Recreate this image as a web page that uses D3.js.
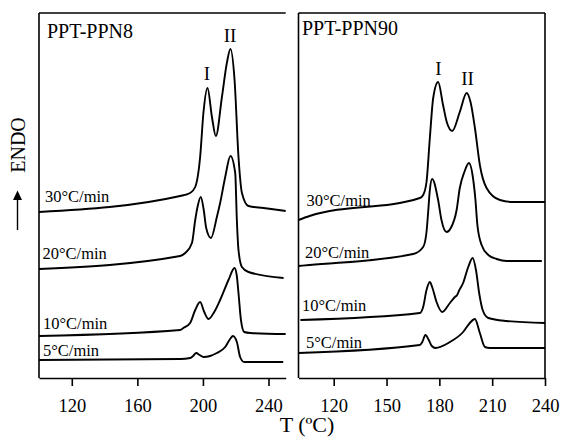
<!doctype html>
<html lang="en">
<head>
<meta charset="UTF-8">
<title>DSC PPT-PPN</title>
<style type="text/css">
body {
  margin: 0;
  padding: 0;
  background: #fff;
}
</style>
<script src="https://cdn.jsdelivr.net/npm/d3@7"></script>
</head>
<body>
<div id="chart"></div>
<script type="text/javascript">

// heating rates, top to bottom
var rates = ['30°C/min', '20°C/min', '10°C/min', '5°C/min'];

// x ticks of each panel
var ticks8 = [120, 160, 200, 240];
var ticks90 = [120, 150, 180, 210, 240];

// PPT-PPN8: temperature (°C) and heat flow (a.u., endo up)
var ppn8T30 = [100, 186.1, 192.2, 195.3, 198.3, 200.3, 202.8, 205.5, 207.9, 211.6, 214.6, 216.8, 219.3, 221.7, 223.8, 227.8, 237.0, 250.5];
var ppn8Q30 = [16.6, 18.2, 18.5, 19.1, 22.1, 26.5, 29.0, 26.1, 24.2, 28.1, 31.5, 32.9, 29.8, 22.1, 18.5, 17.2, 17.0, 16.7];
var ppn8T20 = [100, 186.1, 189.2, 193.3, 195.3, 196.7, 198.7, 200.5, 202.0, 204.9, 208.5, 210.5, 213.6, 216.8, 219.7, 220.7, 221.7, 223.8, 227.8, 249.2];
var ppn8Q20 = [10.9, 12.2, 12.5, 13.5, 15.8, 17.1, 18.1, 16.8, 15.0, 14.0, 16.1, 17.5, 20.1, 22.2, 20.5, 15.8, 12.8, 11.1, 10.6, 10.0];
var ppn8T10 = [100, 186.1, 188.1, 192.2, 195.3, 198.3, 200.8, 203.4, 206.9, 210.5, 215.6, 219.3, 220.6, 221.7, 223.2, 225.2, 228.9, 250.5];
var ppn8Q10 = [4.2, 4.8, 5.0, 5.5, 6.8, 7.6, 6.6, 5.9, 6.6, 7.8, 9.8, 11.0, 10.3, 8.5, 5.8, 4.6, 4.5, 4.4];
var ppn8T5 = [100, 186.1, 192.2, 194.0, 195.9, 198.0, 200.3, 204.4, 208.5, 213.6, 216.6, 218.3, 220.7, 222.7, 225.2, 249.0];
var ppn8Q5 = [1.8, 1.9, 2.0, 2.2, 2.5, 2.3, 2.1, 2.2, 2.5, 3.1, 3.9, 4.2, 3.6, 2.1, 1.6, 1.6];

// PPT-PPN90
var ppn90T30 = [100, 106.3, 168.9, 170.8, 172.7, 174.6, 176.5, 179.3, 182.1, 184.2, 187.3, 191.6, 195.5, 197.7, 200.2, 203.0, 206.8, 214.4, 222.0, 240];
var ppn90Q30 = [15.8, 16.2, 18.0, 18.3, 19.6, 24.0, 28.0, 29.6, 27.3, 25.6, 24.7, 26.6, 28.5, 27.6, 25.0, 21.3, 19.0, 17.8, 17.6, 17.6];
var ppn90T20 = [100, 106.3, 165.1, 170.8, 172.7, 173.6, 174.6, 175.9, 179.3, 181.2, 184.1, 186.5, 189.8, 191.6, 194.2, 196.8, 199.1, 200.5, 201.6, 204.0, 207.8, 212.5, 218.2, 238.2];
var ppn90Q20 = [11.2, 11.3, 12.4, 13.1, 14.6, 16.5, 18.8, 19.9, 17.8, 15.8, 14.6, 15.0, 16.8, 19.0, 20.6, 21.5, 20.0, 17.8, 15.3, 13.3, 12.3, 11.9, 11.7, 11.7];
var ppn90T10 = [101.1, 168.9, 170.8, 172.7, 174.6, 175.9, 178.4, 181.6, 186.0, 188.8, 190.1, 191.1, 193.5, 196.4, 198.9, 200.8, 202.6, 204.6, 207.8, 218.2, 240];
var ppn90Q10 = [5.8, 6.5, 7.1, 8.8, 9.6, 9.1, 7.6, 6.6, 7.5, 8.1, 8.3, 8.7, 9.5, 11.1, 12.0, 10.8, 8.5, 6.8, 6.0, 5.7, 5.5];
var ppn90T5 = [100, 168.9, 170.3, 172.1, 174.0, 175.7, 177.8, 186.0, 193.5, 197.3, 200.2, 203.0, 205.9, 208.7, 240];
var ppn90Q5 = [2.5, 3.3, 3.6, 4.3, 3.8, 3.2, 3.0, 3.6, 4.6, 5.5, 5.9, 4.5, 3.1, 3.0, 3.0];

var SERIF = "'Liberation Serif', 'Times New Roman', serif";

function zip(xs, ys) {
  return xs.map(function(x, i) { return [x, ys[i]]; });
}

var W = 562, H = 444;
var plotTop = 13, plotBottom = 378;

var svg = d3.select('#chart').append('svg')
  .attr('width', W)
  .attr('height', H);

var y = d3.scaleLinear().domain([0, 36.5]).range([plotBottom, plotTop]);

function addText(sel, str, size) {
  return sel.append('text')
    .style('font-family', SERIF)
    .style('font-size', size + 'px')
    .attr('fill', '#000')
    .text(str);
}

var panels = [
  {
    title: 'PPT-PPN8', titleXY: [47, 38],
    x: d3.scaleLinear().domain([100, 250.5]).range([39, 285.7]),
    ticks: ticks8, rightBorder: false,
    curves: [zip(ppn8T30, ppn8Q30), zip(ppn8T20, ppn8Q20), zip(ppn8T10, ppn8Q10), zip(ppn8T5, ppn8Q5)],
    // label anchors, pixel
    rateXY: [[45, 202], [42.5, 258.5], [43, 329], [43, 356]],
    peakLabels: [['I', 207, 80], ['II', 230, 42]]
  },
  {
    title: 'PPT-PPN90', titleXY: [302, 35],
    x: d3.scaleLinear().domain([100, 240]).range([298.5, 545]),
    ticks: ticks90, rightBorder: true,
    curves: [zip(ppn90T30, ppn90Q30), zip(ppn90T20, ppn90Q20), zip(ppn90T10, ppn90Q10), zip(ppn90T5, ppn90Q5)],
    rateXY: [[306.5, 206], [305, 258], [302, 311], [306, 348]],
    peakLabels: [['I', 438.5, 75], ['II', 467.5, 84.5]]
  }
];

panels.forEach(function(p) {
  var g = svg.append('g');
  var x0 = p.x.range()[0], x1 = p.x.range()[1];

  // frame
  g.append('line').attr('x1', x0).attr('x2', x0).attr('y1', plotTop).attr('y2', plotBottom)
    .attr('stroke', '#000').attr('stroke-width', 1.6);
  g.append('line').attr('x1', x0).attr('x2', x1).attr('y1', plotTop).attr('y2', plotTop)
    .attr('stroke', '#000').attr('stroke-width', 1.6);
  if (p.rightBorder) {
    g.append('line').attr('x1', x1).attr('x2', x1).attr('y1', plotTop).attr('y2', plotBottom)
      .attr('stroke', '#000').attr('stroke-width', 1.6);
  }

  var axis = g.append('g')
    .attr('transform', 'translate(0,' + plotBottom + ')')
    .call(d3.axisBottom(p.x).tickValues(p.ticks).tickSize(8).tickSizeOuter(0));
  axis.select('.domain').attr('stroke', '#000').attr('stroke-width', 1.6);
  axis.selectAll('.tick line').attr('stroke', '#000').attr('stroke-width', 1.6);
  axis.selectAll('.tick text')
    .attr('dy', null)
    .attr('y', 33.5)
    .style('font-family', SERIF)
    .style('font-size', '18.5px')
    .attr('fill', '#000');

  var line = d3.line()
    .x(function(d) { return p.x(d[0]); })
    .y(function(d) { return y(d[1]); })
    .curve(d3.curveMonotoneX);

  g.selectAll('path.dsc').data(p.curves).enter()
    .append('path')
    .attr('class', 'dsc')
    .attr('d', line)
    .attr('fill', 'none')
    .attr('stroke', '#000')
    .attr('stroke-width', 1.9)
    .attr('stroke-linejoin', 'round');

  rates.forEach(function(r, i) {
    addText(g, r, 16.5)
      .attr('x', p.rateXY[i][0])
      .attr('y', p.rateXY[i][1]);
  });

  p.peakLabels.forEach(function(d) {
    addText(g, d[0], 19)
      .attr('x', d[1])
      .attr('y', d[2])
      .attr('text-anchor', 'middle');
  });

  addText(g, p.title, 20)
    .attr('x', p.titleXY[0])
    .attr('y', p.titleXY[1]);
});

// x title
addText(svg, 'T (ºC)', 22)
  .attr('x', 307)
  .attr('y', 432)
  .attr('text-anchor', 'middle');

// ENDO with arrow
addText(svg, 'ENDO', 20)
  .attr('transform', 'translate(25,145) rotate(-90)')
  .attr('text-anchor', 'middle');
svg.append('line')
  .attr('x1', 17.5).attr('x2', 17.5).attr('y1', 199).attr('y2', 230)
  .attr('stroke', '#000').attr('stroke-width', 1.4);
svg.append('path')
  .attr('d', 'M17.5,190.5 L13,200 L22,200 Z')
  .attr('fill', '#000');

</script>
</body>
</html>
